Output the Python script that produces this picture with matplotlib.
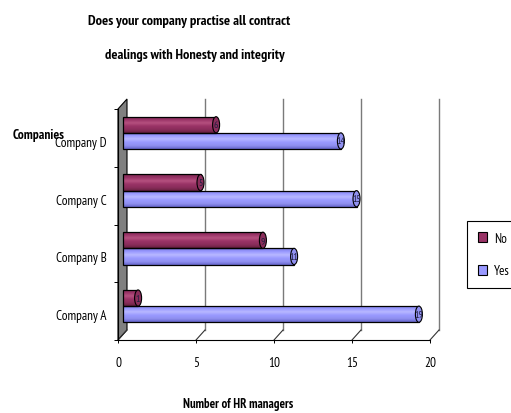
import matplotlib
matplotlib.use('Agg')
import matplotlib.pyplot as plt
from matplotlib.patches import Polygon, Ellipse, Patch
from matplotlib.colors import LinearSegmentedColormap
from matplotlib import font_manager
import numpy as np

companies = ['Company A', 'Company B', 'Company C', 'Company D']
yes_values = [19, 11, 15, 14]
no_values = [1, 9, 5, 6]
x_ticks = [0, 5, 10, 15, 20]
title_line1 = 'Does your company practise all contract'
title_line2 = 'dealings with Honesty and integrity'
x_label = 'Number of HR managers'
y_label = 'Companies'

avail = {f.name for f in font_manager.fontManager.ttflist}
prefs = ['Liberation Sans Narrow', 'Arial Narrow', 'PT Sans Narrow', 'Pragati Narrow',
         'Roboto Condensed', 'Archivo Narrow', 'Asap Condensed', 'DejaVu Sans']
family = next(p for p in prefs if p in avail)
plt.rcParams['font.family'] = [family, 'DejaVu Sans']

YES = '#9999FF'
NO = '#993366'
yes_grad = ['#6666CC', '#9090F0', '#9999FF', '#B8B8FF', '#9999FF', '#7a7ae0']
no_grad = ['#66203F', '#8A2D5B', '#993366', '#B5507F', '#993366', '#7a2850']

W, H = 511, 414
fig = plt.figure(figsize=(W / 100, H / 100), dpi=100)
x0p, x1p = 118, 430
ytop, ybot = 110, 341
ax = fig.add_axes([x0p / W, 1 - ybot / H, (x1p - x0p) / W, (ybot - ytop) / H])
xmin, xmax = 0, 20
ymin, ymax = -0.5, 3.5
dx = (xmax - xmin) * 9 / (x1p - x0p)
dy = (ymax - ymin) * 10 / (ybot - ytop)

ax.add_patch(Polygon([(0, ymin), (0, ymax), (dx, ymax + dy), (dx, ymin + dy)],
                     closed=True, facecolor='#808080', edgecolor='black',
                     lw=0.8, clip_on=False, zorder=1))
for t in x_ticks:
    if t > 0:
        ax.plot([t + dx, t + dx], [ymin + dy, ymax + dy], color='#7a7a7a', lw=1.0,
                clip_on=False, zorder=1)
    ax.plot([t, t + dx], [ymin, ymin + dy], color='#333333', lw=0.8,
            clip_on=False, zorder=1)

h = 0.28
idx = np.arange(len(companies))
capw = 0.45


def cyl(values, ypos, base, grad):
    cmap = LinearSegmentedColormap.from_list('g', grad)
    bars = ax.barh(ypos, values, height=h, left=dx / 2, color=base,
                   edgecolor='none', zorder=2)
    for b in bars:
        x = b.get_x(); w = b.get_width(); y = b.get_y(); hh = b.get_height()
        im = ax.imshow(np.linspace(0, 1, 64).reshape(-1, 1),
                       extent=[x, x + w, y, y + hh], origin='lower', cmap=cmap,
                       aspect='auto', interpolation='bilinear', zorder=2.5)
        im.set_clip_path(b)
    ax.barh(ypos, values, height=h, left=dx / 2, fill=False,
            edgecolor='black', lw=0.9, zorder=3)
    for v, yy in zip(values, ypos):
        ax.add_patch(Ellipse((dx / 2 + v, yy), capw, h, facecolor=grad[1],
                             edgecolor='black', lw=0.8, zorder=4, clip_on=False))
        ax.text(dx / 2 + v, yy, str(v), ha='center', va='center', fontsize=7,
                color='#202040', zorder=5, clip_on=False)
    return bars


yes_pos = idx - h / 2 + dy / 2
no_pos = idx + h / 2 + dy / 2
cyl(yes_values, yes_pos, YES, yes_grad)
cyl(no_values, no_pos, NO, no_grad)

ax.set_xlim(xmin, xmax)
ax.set_ylim(ymin, ymax)
ax.set_xticks(x_ticks)
ax.set_xticklabels([str(t) for t in x_ticks])
ax.tick_params(axis='x', length=2.5, width=0.7, pad=9, labelsize=9.5, direction='out')
ax.set_yticks(idx - 0.05)
ax.set_yticklabels(companies)
ax.set_yticks(np.arange(ymin, ymax + 0.01, 1), minor=True)
ax.tick_params(axis='y', which='major', length=0, pad=8, labelsize=9.5)
ax.tick_params(axis='y', which='minor', length=3, width=0.7, direction='out')
for s in ['top', 'right']:
    ax.spines[s].set_visible(False)
ax.spines['bottom'].set_linewidth(0.8)
ax.spines['left'].set_linewidth(0.8)
ax.patch.set_alpha(0)

fig.text(189 / W, 1 - 22 / H, title_line1, ha='center', va='center',
         fontsize=10.4, fontweight='bold')
fig.text(195 / W, 1 - 55 / H, title_line2, ha='center', va='center',
         fontsize=10.2, fontweight='bold')
fig.text(13 / W, 1 - 135 / H, y_label, ha='left', va='center', fontsize=9.6,
         fontweight='bold')
fig.text(238 / W, 1 - 405 / H, x_label, ha='center', va='center', fontsize=9.2,
         fontweight='bold')

handles = [Patch(facecolor=NO, edgecolor='black', lw=0.8, label='No'),
           Patch(facecolor=YES, edgecolor='black', lw=0.8, label='Yes')]
leg = fig.legend(handles=handles, loc='upper left',
                 bbox_to_anchor=(467 / W, 1 - 222 / H), frameon=True,
                 fancybox=False, edgecolor='black', framealpha=1, fontsize=9.5,
                 handlelength=0.75, handleheight=0.75, handletextpad=0.5,
                 labelspacing=1.5, borderpad=0.8, borderaxespad=0)
leg.get_frame().set_linewidth(0.8)

fig.savefig('out.png', dpi=100)
